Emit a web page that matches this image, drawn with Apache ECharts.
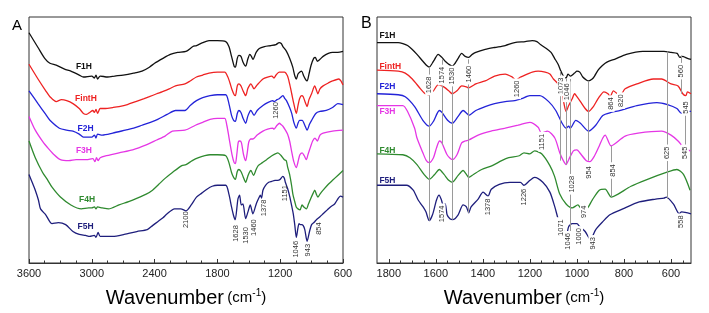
<!DOCTYPE html>
<html>
<head>
<meta charset="utf-8">
<script src="https://cdn.jsdelivr.net/npm/echarts@6/dist/echarts.min.js"></script>
<style>
html, body { margin: 0; padding: 0; background: #fff; }
#chart { width: 709px; height: 313px; }
</style>
</head>
<body>
<div id="chart"></div>
<script>
// FTIR spectra, offset traces (arbitrary intensity units)
const names = ['F1H', 'FintH', 'F2H', 'F3H', 'F4H', 'F5H'];
const colors = ['#111111', '#ee2222', '#2323d8', '#e536e5', '#2f8a2f', '#1e1e7c'];

const ticksB = [1800, 1600, 1400, 1200, 1000, 800, 600];
const minorB = [1750, 1700, 1650, 1550, 1500, 1450, 1350, 1300, 1250, 1150, 1100, 1050, 950, 900, 850, 750, 700, 650, 550];

// panel A, 3600-600 cm-1
const aF1H = [[3600,234],[3514,219],[3450,208],[3400,203],[3340,201],[3260,197],[3200,195],[3120,191],[3080,189],[3000,190],[2975,188],[2960,191],[2945,187],[2920,190],[2850,189],[2780,190],[2700,191],[2600,193],[2520,195],[2450,199],[2400,203],[2320,208],[2250,212],[2180,214],[2100,215],[2034,220],[2000,221],[1940,224],[1880,226],[1800,226],[1720,225],[1690,220],[1665,210],[1640,200],[1628,199],[1610,208],[1595,211],[1575,210],[1555,204],[1530,200],[1510,207],[1490,212],[1475,210],[1460,207],[1430,214],[1400,218],[1350,220],[1290,221],[1240,222],[1210,224],[1190,223],[1174,220],[1140,215],[1110,208],[1080,199],[1060,190],[1046,187],[1030,192],[1012,194],[995,195],[975,190],[955,186],[943,185],[925,192],[905,201],[880,208],[865,209],[845,205],[820,207],[790,210],[740,213],[700,214],[650,214],[600,215]];
const aFintH = [[3600,202],[3514,187],[3440,175],[3400,169],[3340,164],[3290,166],[3240,165],[3180,162],[3120,157],[3080,152],[3050,151],[3020,153],[2990,155],[2975,153],[2960,156],[2945,152],[2920,157],[2870,157],[2800,158],[2740,159],[2660,161],[2580,164],[2500,167],[2450,169],[2380,172],[2330,174],[2260,177],[2200,180],[2110,182],[2060,185],[2000,189],[1940,191],[1880,193],[1800,194],[1730,194],[1700,189],[1680,183],[1660,176],[1640,171],[1628,170],[1610,180],[1595,182],[1575,180],[1555,175],[1530,170],[1510,177],[1490,181],[1480,182],[1450,177],[1420,181],[1365,187],[1320,189],[1280,190],[1260,188],[1240,191],[1210,194],[1160,194],[1130,190],[1110,182],[1090,172],[1070,162],[1046,152],[1030,160],[1015,167],[995,170],[980,169],[960,163],[943,159],[925,166],[900,172],[870,180],[855,176],[840,172],[820,177],[790,180],[740,183],[700,185],[640,187],[620,185],[600,181]];
const aF2H = [[3600,175],[3514,162],[3440,151],[3400,145],[3310,137],[3240,135],[3180,134],[3120,131],[3080,128],[3000,128],[2975,130],[2960,127],[2945,131],[2900,130],[2800,132],[2680,135],[2600,137],[2520,140],[2440,143],[2370,146],[2280,151],[2200,155],[2110,155],[2060,160],[2000,165],[1940,168],[1870,170],[1800,171],[1720,171],[1690,162],[1665,150],[1645,145],[1628,144],[1610,152],[1595,155],[1575,153],[1555,147],[1530,142],[1510,149],[1490,154],[1480,155],[1450,150],[1420,155],[1365,160],[1320,163],[1270,165],[1260,164],[1230,166],[1210,167],[1174,170],[1155,167],[1140,165],[1110,158],[1090,152],[1070,143],[1046,137],[1030,142],[1015,145],[990,145],[965,140],[943,135],[920,141],[900,145],[860,152],[820,154],[760,155],[700,158],[650,162],[600,161]];
const aF3H = [[3600,149],[3540,135],[3460,122],[3420,117],[3360,110],[3300,105],[3220,104],[3150,105],[3050,105],[2990,106],[2970,103],[2955,107],[2940,104],[2920,107],[2860,109],[2740,112],[2610,115],[2480,120],[2380,125],[2300,129],[2230,134],[2110,135],[2010,140],[1940,143],[1870,146],[1800,147],[1730,147],[1710,140],[1690,128],[1660,110],[1640,102],[1628,101],[1615,110],[1600,123],[1585,124],[1570,122],[1550,110],[1530,104],[1515,112],[1500,123],[1480,126],[1460,126],[1420,130],[1365,134],[1320,136],[1270,137],[1260,136],[1230,140],[1206,142],[1195,141],[1174,139],[1150,135],[1130,131],[1110,124],[1090,113],[1070,103],[1046,97],[1025,105],[1012,110],[990,112],[970,109],[950,105],[935,110],[910,118],[890,124],[868,127],[845,124],[820,130],[790,132],[700,134],[600,135]];
const aF4H = [[3600,124],[3540,107],[3470,92],[3420,84],[3380,77],[3300,67],[3200,59],[3100,55],[3030,56],[3000,56],[2975,57],[2960,55],[2945,57],[2900,56],[2840,55],[2740,59],[2610,64],[2480,70],[2420,74],[2360,80],[2300,86],[2230,92],[2140,99],[2100,100],[2040,104],[1980,107],[1920,109],[1870,110],[1800,110],[1720,109],[1690,102],[1665,92],[1645,87],[1628,85],[1610,93],[1595,95],[1575,93],[1555,88],[1530,82],[1510,88],[1495,92],[1480,94],[1455,89],[1430,95],[1410,99],[1370,102],[1330,105],[1280,109],[1222,112],[1190,109],[1160,105],[1142,104],[1130,98],[1110,90],[1090,78],[1079,70],[1060,62],[1047,57],[1030,55],[1010,54],[992,59],[975,57],[950,55],[930,60],[910,65],[885,71],[870,74],[855,70],[840,67],[820,70],[790,74],[740,80],[700,84],[650,89],[600,94]];
const aF5H = [[3600,90],[3570,82],[3540,74],[3510,64],[3490,55],[3440,49],[3380,40],[3320,41],[3250,39],[3180,32],[3120,29],[3060,28],[3020,27],[2975,28],[2960,26],[2940,31],[2920,27],[2880,27],[2800,27],[2690,29],[2570,32],[2470,34],[2420,38],[2370,42],[2320,46],[2280,50],[2210,55],[2150,55],[2100,53],[2050,59],[2000,67],[1950,71],[1900,75],[1850,78],[1800,79],[1720,79],[1690,70],[1665,57],[1645,48],[1630,44],[1604,65],[1588,69],[1572,59],[1556,60],[1530,45],[1508,52],[1486,59],[1461,50],[1429,60],[1400,67],[1390,69],[1378,66],[1365,74],[1340,79],[1310,82],[1280,83],[1250,84],[1225,84],[1200,85],[1175,88],[1160,86],[1151,82],[1130,76],[1110,68],[1090,58],[1075,50],[1060,38],[1046,26],[1030,36],[1020,40],[1008,39],[995,39],[980,38],[965,34],[943,22],[920,32],[900,39],[870,42],[854,44],[820,47],[790,50],[750,54],[720,57],[680,60],[650,65],[625,68],[600,67]];

// panel B, 1850-515 cm-1
const bF1H = [[1850,224],[1760,224],[1740,223],[1720,221],[1700,217],[1680,212],[1655,205],[1640,201],[1628,199],[1615,203],[1605,207],[1590,212],[1574,209],[1560,205],[1545,202],[1530,200],[1518,203],[1505,208],[1490,213],[1475,210],[1460,209],[1445,212],[1430,214],[1390,217],[1350,219],[1305,221],[1265,224],[1220,225],[1190,226],[1170,225],[1155,222],[1130,218],[1110,214],[1095,208],[1080,202],[1070,196],[1060,191],[1046,188],[1038,192],[1028,190],[1010,193],[1000,195],[988,194],[975,189],[960,186],[950,185],[935,187],[925,190],[910,196],[895,200],[880,203],[866,205],[840,207],[790,212],[720,215],[630,215],[600,214],[574,213],[562,209],[550,210],[540,209],[530,208],[515,207]];
const bFintH = [[1850,196],[1760,195],[1730,193],[1700,187],[1665,177],[1645,172],[1628,171],[1610,175],[1590,181],[1574,180],[1560,178],[1545,175],[1530,172],[1510,175],[1490,180],[1470,179],[1460,178],[1430,182],[1390,185],[1350,190],[1305,192],[1275,189],[1260,186],[1240,189],[1230,190],[1190,194],[1165,195],[1135,194],[1115,192],[1100,187],[1080,182],[1065,175],[1055,162],[1046,154],[1035,160],[1020,167],[1010,172],[1000,169],[985,164],[965,157],[950,154],[930,159],[910,167],[885,174],[868,172],[859,169],[845,175],[828,172],[814,171],[795,177],[745,182],[675,187],[640,187],[600,182],[570,180],[550,172],[537,170],[530,174],[515,172]];
const bF2H = [[1850,172],[1760,171],[1730,169],[1690,159],[1655,145],[1628,139],[1610,144],[1585,155],[1574,153],[1550,145],[1530,142],[1505,149],[1484,155],[1468,152],[1460,150],[1430,155],[1390,159],[1350,162],[1305,164],[1264,165],[1235,167],[1200,170],[1158,170],[1120,164],[1090,155],[1063,142],[1046,137],[1035,139],[1028,137],[1005,145],[985,142],[950,134],[920,140],[890,150],[855,153],[815,155],[745,160],[660,163],[615,161],[575,157],[555,152],[535,154],[515,154]];
const bF3H = [[1850,160],[1740,160],[1720,154],[1690,137],[1680,127],[1655,112],[1640,104],[1628,102],[1610,107],[1597,117],[1584,124],[1574,122],[1552,110],[1530,105],[1510,110],[1490,122],[1475,124],[1460,125],[1420,130],[1365,134],[1305,137],[1250,140],[1200,143],[1165,138],[1151,132],[1125,134],[1094,127],[1073,112],[1060,105],[1046,100],[1035,105],[1015,114],[1000,115],[988,112],[960,104],[945,103],[925,109],[905,119],[890,127],[880,130],[855,119],[840,121],[795,129],[740,132],[640,134],[600,130],[570,124],[545,117],[518,114]];
const bF4H = [[1850,111],[1740,110],[1710,107],[1680,100],[1650,90],[1628,85],[1605,90],[1585,95],[1565,90],[1545,84],[1530,82],[1505,89],[1484,94],[1470,90],[1460,87],[1440,90],[1405,95],[1360,99],[1320,104],[1290,107],[1245,109],[1225,112],[1200,111],[1180,114],[1150,111],[1115,99],[1095,88],[1073,70],[1046,60],[1020,56],[996,59],[980,55],[960,55],[935,64],[905,74],[880,75],[854,67],[825,70],[770,78],[700,85],[620,92],[575,95],[547,90],[519,74]];
const bF5H = [[1850,79],[1725,79],[1696,74],[1675,64],[1654,57],[1642,52],[1628,43],[1614,49],[1597,64],[1586,69],[1576,64],[1569,59],[1560,60],[1552,49],[1540,45],[1528,44],[1505,49],[1484,59],[1470,57],[1460,51],[1450,57],[1420,65],[1399,72],[1378,68],[1364,75],[1330,80],[1285,82],[1240,82],[1226,79],[1200,84],[1180,87],[1145,82],[1115,72],[1094,57],[1075,41],[1066,39],[1046,27],[1035,37],[1020,40],[1000,40],[988,37],[965,32],[943,24],[920,34],[890,42],[860,49],[805,55],[735,62],[665,65],[630,66],[620,67],[590,60],[565,50],[555,52],[515,50]];

const specA = [aF1H, aFintH, aF2H, aF3H, aF4H, aF5H];
const specB = [bF1H, bFintH, bF2H, bF3H, bF4H, bF5H];

// trace name anchors (wavenumber, intensity)
const nameAtA = [[3075,199.5],[3056,167.5],[3060,136.5],[3075,114.5],[3046,64],[3060,37]];
const nameAtB = [[1842,231],[1842,200],[1842,179],[1842,154],[1842,114],[1842,84]];

// band labels: text, wavenumber, intensity
const peaksA = [['2100',2096,44],['1628',1623,30],['1530',1526,28],['1460',1451,36],['1378',1356,56],['1151',1155,71],['1046',1045,14],['943',935,13],['854',830,35],['1260',1241,155]];
const peaksB = [['1628',1628,181],['1574',1575,191],['1530',1530,190],['1460',1457,192],['1260',1255,177],['1073',1067,180],['1046',1044,174],['864',857,162],['820',813,165],['560',557,195],['545',538,158],['1151',1147,123],['1028',1023,80],['954',948,92],['854',849,94],['625',617,112],['545',541,112],['1574',1576,50],['1378',1378,57],['1226',1224,67],['1071',1069,36],['1046',1039,22],['1000',991,27],['974',970,52],['943',934,20],['558',557,42]];
// guide lines in B: wavenumber, from, to
const linesB = [[1628,199,43],[1574,207,120],[1530,199,44],[1460,207,51],[1073,195,104],[1046,187,100],[1028,187,32],[950,185,104],[854,119,67],[617,215,65],[557,211,172],[541,154,116]];

const font = 'Liberation Sans, Arial, sans-serif';
const chart = echarts.init(document.getElementById('chart'));

function nameMark(text, at, color, alignLeft) {
  return {
    symbol: 'rect', symbolSize: 1, silent: true, animation: false,
    itemStyle: { color: 'rgba(0,0,0,0)' },
    label: {
      show: true, formatter: '{b}', position: alignLeft ? 'right' : 'inside', distance: 0,
      color: color, fontWeight: 'bold', fontSize: 8.5, fontFamily: font
    },
    data: [{ name: text, coord: at }]
  };
}

function peakMark(list, bg) {
  return {
    symbol: 'rect', symbolSize: 1, silent: true, animation: false,
    itemStyle: { color: 'rgba(0,0,0,0)' },
    label: {
      show: true, formatter: '{b}', position: 'inside', rotate: 90,
      fontSize: 7.5, color: '#333', fontFamily: font,
      backgroundColor: bg ? '#fff' : 'transparent', padding: [0, 2]
    },
    data: list.map(p => ({ name: p[0], coord: [p[1], p[2]] }))
  };
}

const series = [];
names.forEach((n, i) => {
  series.push({
    name: n, type: 'line', xAxisIndex: 0, yAxisIndex: 0, data: specA[i],
    showSymbol: false, symbol: 'none', smooth: 0.25, z: 3, animation: false,
    lineStyle: { color: colors[i], width: 1.3 },
    markPoint: nameMark(n, nameAtA[i], colors[i], false)
  });
  series.push({
    name: n + 'B', type: 'line', xAxisIndex: 1, yAxisIndex: 1, data: specB[i],
    showSymbol: false, symbol: 'none', smooth: 0.25, z: 3, animation: false,
    lineStyle: { color: colors[i], width: 1.3 },
    markPoint: nameMark(n, nameAtB[i], colors[i], true)
  });
});
// guide lines and band labels
series.push({
  type: 'line', xAxisIndex: 1, yAxisIndex: 1, data: [], z: 1, animation: false,
  markLine: {
    symbol: ['none', 'none'], silent: true, animation: false, label: { show: false },
    lineStyle: { color: '#9a9a9a', width: 1, type: 'solid' },
    data: linesB.map(l => [{ coord: [l[0], l[1]] }, { coord: [l[0], l[2]] }])
  }
});
series.push({ type: 'line', xAxisIndex: 0, yAxisIndex: 0, data: [], z: 5, animation: false, markPoint: peakMark(peaksA, false) });
series.push({ type: 'line', xAxisIndex: 1, yAxisIndex: 1, data: [], z: 5, animation: false, markPoint: peakMark(peaksB, true) });

const axisName = '{a|Wavenumber} {b|(cm}{c|-1}{b|)}';
const nameRich = {
  a: { fontSize: 20, fontFamily: font, color: '#000' },
  b: { fontSize: 15, fontFamily: font, color: '#000' },
  c: { fontSize: 10, fontFamily: font, color: '#000', verticalAlign: 'top' }
};
const tickStyle = { color: '#333' };
const plain = v => String(v);

const option = {
  backgroundColor: '#fff',
  animation: false,
  grid: [
    { left: 29, top: 17, width: 314, height: 250, show: true, borderColor: '#333', borderWidth: 1 },
    { left: 377, top: 17, width: 314, height: 250, show: true, borderColor: '#333', borderWidth: 1 }
  ],
  xAxis: [
    {
      gridIndex: 0, type: 'value', inverse: true, min: 600, max: 3600, interval: 600,
      axisLine: { lineStyle: tickStyle },
      axisTick: { inside: true, length: 4, lineStyle: tickStyle },
      minorTick: { show: true, splitNumber: 4, length: 2.5, lineStyle: tickStyle },
      axisLabel: { color: '#222', fontSize: 11, margin: 5, fontFamily: font, formatter: plain },
      splitLine: { show: false },
      name: axisName, nameLocation: 'middle', nameGap: 25,
      nameTextStyle: { rich: nameRich }
    },
    {
      gridIndex: 1, type: 'value', inverse: true, min: 515, max: 1850,
      axisLine: { lineStyle: tickStyle },
      axisTick: { inside: true, length: 4, lineStyle: tickStyle, customValues: ticksB },
      axisLabel: { color: '#222', fontSize: 11, margin: 5, fontFamily: font, customValues: ticksB, formatter: plain },
      splitLine: { show: false },
      name: axisName, nameLocation: 'middle', nameGap: 25,
      nameTextStyle: { rich: nameRich, padding: [0, 20, 0, 0] }
    },
    {
      gridIndex: 1, type: 'value', inverse: true, min: 515, max: 1850, position: 'bottom',
      axisLine: { show: false },
      axisTick: { inside: true, length: 2.5, lineStyle: tickStyle, customValues: minorB },
      axisLabel: { show: false },
      splitLine: { show: false }
    }
  ],
  yAxis: [
    { gridIndex: 0, type: 'value', min: 0, max: 250, show: false },
    { gridIndex: 1, type: 'value', min: 0, max: 250, show: false }
  ],
  graphic: [
    { type: 'text', left: 12, top: 18, style: { text: 'A', fontSize: 15, fontFamily: font, fill: '#000' } },
    { type: 'text', left: 361, top: 16, style: { text: 'B', fontSize: 16, fontFamily: font, fill: '#000' } }
  ],
  series: series
};

chart.setOption(option);
</script>
</body>
</html>
